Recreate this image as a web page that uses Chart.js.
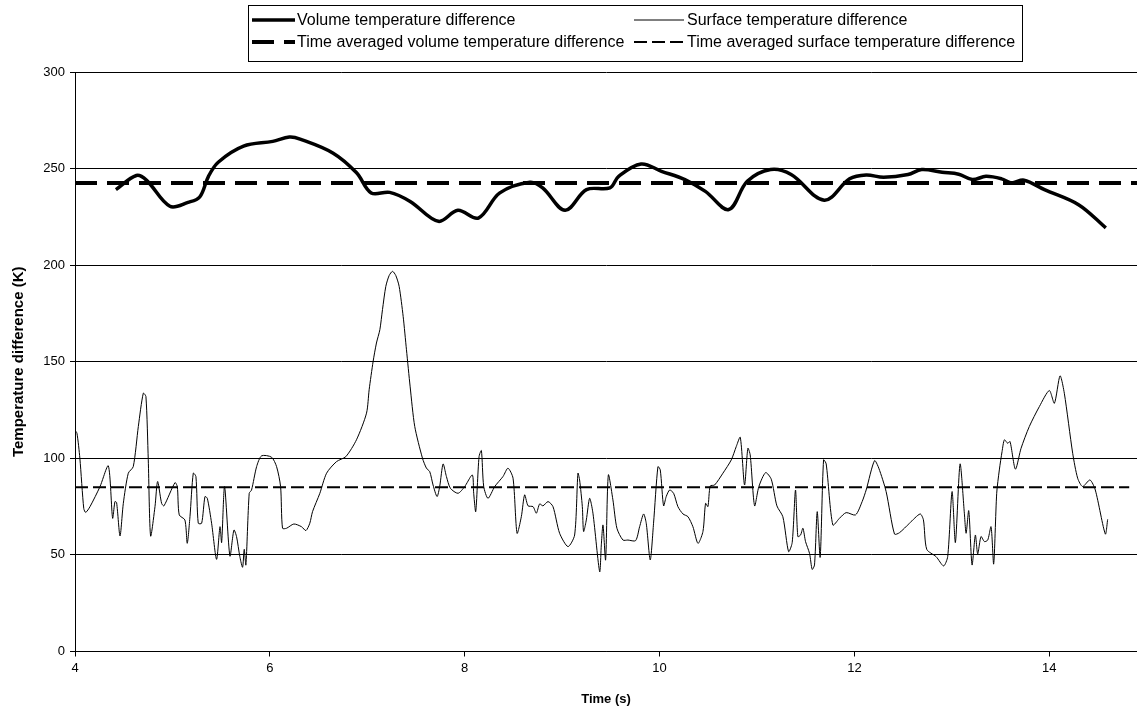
<!DOCTYPE html>
<html>
<head>
<meta charset="utf-8">
<script src="https://cdn.jsdelivr.net/npm/chart.js@4.4.1/dist/chart.umd.min.js"></script>
<style>
  html, body { margin: 0; padding: 0; background: #fff; }
  #chart { display: block; }
</style>
</head>
<body>
<canvas id="chart" width="1137" height="708"></canvas>
<script>
// volume temperature difference (thick line)
const volTime = [4.42, 4.63, 4.735, 4.974, 5.16, 5.28, 5.37, 5.47, 5.73, 6.03, 6.2, 6.31, 6.65, 6.89, 7.04, 7.23, 7.44, 7.73, 7.93, 8.14,
  8.36, 8.67, 8.80, 9.03, 9.25, 9.49, 9.58, 9.81, 10.02, 10.26, 10.47, 10.71, 10.90, 11.14, 11.35, 11.69, 11.95, 12.12, 12.30, 12.55,
  12.69, 12.90, 13.07, 13.21, 13.35, 13.51, 13.61, 13.74, 13.95, 14.30, 14.58];
const volValue = [239.1, 246.4, 243.9, 230.5, 232.5, 235.3, 246, 253.3, 261.6, 264.1, 266.3, 265.3, 258, 247.8, 237.4, 237.7, 233, 222.7, 228.4, 224.4,
  237.4, 242.9, 240, 228.4, 239.1, 240, 246, 252.4, 248.6, 244.3, 238.2, 228.8, 243.4, 249.5, 246.9, 233.6, 244.7, 246.7, 245.5, 246.9,
  249.5, 248.1, 247.1, 244.3, 246, 244.7, 242.6, 244, 239.1, 231.3, 219.3];

// surface temperature difference (thin line)
const surfTime = [4.0, 4.02, 4.05, 4.09, 4.11, 4.154, 4.257, 4.342, 4.386, 4.41, 4.427, 4.462, 4.496, 4.547, 4.598, 4.65, 4.701, 4.728, 4.752, 4.776,
  4.821, 4.848, 4.889, 4.913, 5.026, 5.05, 5.07, 5.128, 5.152, 5.18, 5.214, 5.241, 5.265, 5.3, 5.334, 5.358, 5.402, 5.453, 5.488, 5.505,
  5.535, 5.59, 5.631, 5.658, 5.692, 5.72, 5.737, 5.754, 5.788, 5.812, 5.864, 5.915, 6.017, 6.069, 6.11, 6.13, 6.171, 6.246, 6.325, 6.37,
  6.41, 6.438, 6.513, 6.582, 6.684, 6.78, 6.889, 6.992, 7.019, 7.06, 7.094, 7.129, 7.156, 7.19, 7.224, 7.259, 7.293, 7.327, 7.368, 7.402,
  7.44, 7.487, 7.566, 7.607, 7.641, 7.675, 7.716, 7.743, 7.778, 7.812, 7.853, 7.931, 8.0, 8.078, 8.092, 8.113, 8.147, 8.171, 8.195, 8.239,
  8.308, 8.393, 8.444, 8.496, 8.537, 8.581, 8.615, 8.65, 8.701, 8.735, 8.769, 8.803, 8.855, 8.906, 8.974, 9.06, 9.128, 9.162, 9.179, 9.207,
  9.22, 9.248, 9.282, 9.316, 9.385, 9.402, 9.419, 9.446, 9.474, 9.521, 9.562, 9.624, 9.675, 9.754, 9.795, 9.836, 9.863, 9.904, 9.938, 9.983,
  10.007, 10.041, 10.068, 10.103, 10.144, 10.188, 10.24, 10.291, 10.342, 10.394, 10.445, 10.472, 10.496, 10.52, 10.565, 10.65, 10.736, 10.787, 10.828, 10.872,
  10.906, 10.93, 10.975, 11.019, 11.088, 11.146, 11.204, 11.265, 11.324, 11.361, 11.395, 11.419, 11.447, 11.471, 11.498, 11.539, 11.566, 11.59, 11.618, 11.648,
  11.683, 11.71, 11.778, 11.847, 11.915, 12.011, 12.079, 12.12, 12.206, 12.25, 12.325, 12.411, 12.462, 12.565, 12.674, 12.708, 12.742, 12.838, 12.915, 12.957,
  13.002, 13.036, 13.084, 13.128, 13.146, 13.173, 13.207, 13.241, 13.265, 13.299, 13.334, 13.368, 13.402, 13.429, 13.46, 13.487, 13.515, 13.539, 13.573, 13.597,
  13.652, 13.71, 13.795, 13.898, 14.0, 14.052, 14.11, 14.154, 14.24, 14.291, 14.342, 14.417, 14.472, 14.575, 14.599];
const surfValue = [114.5, 113, 100, 74, 72, 75, 85.4, 96.1, 69, 77.6, 77.1, 59.8, 76.7, 92.3, 95.7, 116.5, 133.7, 132, 99.2, 59.8,
  75, 88, 76.7, 75.4, 87.4, 85.4, 70.7, 68.1, 56, 69.8, 92.3, 90.6, 66.4, 66.4, 80.2, 79.3, 66.4, 47.7, 64.6, 56.4,
  85.4, 49.4, 62.9, 59.5, 49.1, 43.6, 52.9, 44.8, 81.9, 83.6, 95.7, 101.3, 100.6, 95.7, 85.4, 63.8, 63.8, 66, 64.6, 62.6,
  66.4, 72.4, 81.9, 92.3, 98.3, 100.9, 109.6, 123.4, 135.5, 150.2, 159.7, 166.6, 177, 189, 194.6, 196.8, 194.6, 189, 173.5, 156.2,
  137, 116.5, 100.1, 94.9, 93.1, 86.2, 80.2, 85.4, 97.1, 90.6, 84.5, 81.9, 85.4, 91.4, 81.9, 72.4, 100.9, 104, 85.4, 79.3,
  85.4, 90.6, 94.9, 89.7, 61.2, 69.8, 81.1, 75.4, 75, 71.6, 76.4, 75.4, 77.6, 75, 61.2, 54.3, 60.3, 92.3, 88.8, 75,
  62.1, 68.1, 79.3, 71.6, 41.3, 55.2, 65.5, 47.4, 91.4, 78.5, 63.8, 57.7, 57.7, 57.4, 64.6, 71.2, 66.4, 47.4, 66.4, 95.7,
  94, 75.4, 80.2, 83.6, 81.9, 75, 71.2, 69.8, 64.6, 56, 62.1, 76.7, 75, 85.7, 86.2, 92.3, 99.2, 106.1, 110.9, 86.2,
  105.2, 101.8, 75.4, 85.4, 92.6, 89.2, 75.4, 69.8, 51.7, 56.4, 83.6, 59.5, 60.3, 63.8, 56.9, 50.8, 42.5, 44.8, 72.4, 48.8,
  99.2, 97.1, 65.5, 69, 71.9, 70.7, 77.6, 83.6, 98.8, 94.9, 82.8, 60.8, 61.5, 66.4, 71.2, 68.1, 52.9, 49.1, 44.3, 49.1,
  82.8, 56.4, 97.1, 71.6, 61.2, 72.9, 44.8, 60.3, 50.5, 59.5, 56.9, 57.7, 64.6, 45.3, 81.9, 94, 103.5, 109.6, 107.8, 108.7,
  94.4, 105.2, 116.5, 126.8, 135.1, 128.5, 142.7, 133.7, 102.6, 89.7, 85.4, 88.8, 83.6, 60.8, 68.4];

// time averaged values
const volMean = 242.5;
const surfMean = 85;
const volMeanSpan = [4, 14.9];
const surfMeanSpan = [4, 14.82];

const xTicks = [4, 6, 8, 10, 12, 14];

const labels = [
  'Volume temperature difference',
  'Surface temperature difference',
  'Time averaged volume temperature difference',
  'Time averaged surface temperature difference'
];

const FONT = "'Liberation Sans', Arial, sans-serif";

function toPoints(xs, ys) {
  return xs.map((x, i) => ({x: x, y: ys[i]}));
}

// legend drawn as a boxed 2x2 grid above the plot
const boxLegend = {
  id: 'boxLegend',
  afterDraw(chart) {
    const ctx = chart.ctx;
    const sets = chart.data.datasets;
    const box = {x: 248.5, y: 5.5, w: 774, h: 56};
    ctx.save();
    ctx.strokeStyle = '#000';
    ctx.lineWidth = 1;
    ctx.setLineDash([]);
    ctx.strokeRect(box.x, box.y, box.w, box.h);
    const cols = [{x0: 252, x1: 295, tx: 297}, {x0: 634, x1: 684, tx: 687}];
    const rows = [20, 42];
    sets.forEach((ds, i) => {
      const c = cols[i % 2];
      const y = rows[Math.floor(i / 2)];
      ctx.beginPath();
      ctx.strokeStyle = ds.borderColor;
      ctx.lineWidth = ds.borderWidth;
      ctx.setLineDash(ds.borderDash || []);
      ctx.moveTo(c.x0, y);
      ctx.lineTo(c.x1, y);
      ctx.stroke();
      ctx.setLineDash([]);
      ctx.fillStyle = '#000';
      ctx.font = '16px ' + FONT;
      ctx.textBaseline = 'middle';
      ctx.textAlign = 'left';
      ctx.fillText(ds.label, c.tx, y + 1);
    });
    ctx.restore();
  }
};

const ctx = document.getElementById('chart').getContext('2d');
const chart = new Chart(ctx, {
  type: 'line',
  data: {
    datasets: [
      {
        label: labels[0],
        data: toPoints(volTime, volValue),
        borderColor: '#000',
        borderWidth: 3.5,
        tension: 0.35,
        pointRadius: 0,
        fill: false
      },
      {
        label: labels[1],
        data: toPoints(surfTime, surfValue),
        borderColor: '#000',
        borderWidth: 1,
        tension: 0.25,
        pointRadius: 0,
        fill: false
      },
      {
        label: labels[2],
        data: toPoints(volMeanSpan, [volMean, volMean]),
        borderColor: '#000',
        borderWidth: 4,
        borderDash: [22, 10],
        pointRadius: 0,
        fill: false
      },
      {
        label: labels[3],
        data: toPoints(surfMeanSpan, [surfMean, surfMean]),
        borderColor: '#000',
        borderWidth: 2,
        borderDash: [13, 5],
        pointRadius: 0,
        fill: false
      }
    ]
  },
  options: {
    responsive: false,
    animation: false,
    devicePixelRatio: 1,
    layout: {
      padding: {top: 72, right: 0, bottom: 0, left: 0}
    },
    plugins: {
      legend: {display: false},
      tooltip: {enabled: false}
    },
    scales: {
      x: {
        type: 'linear',
        min: 4,
        max: 14.9,
        afterBuildTicks: scale => {
          scale.ticks = xTicks.map(v => ({value: v}));
        },
        afterFit: scale => {
          scale.height = 56.5;
        },
        grid: {
          drawOnChartArea: false,
          color: '#000',
          tickLength: 5
        },
        border: {color: '#000', width: 1},
        ticks: {
          color: '#000',
          font: {family: FONT, size: 13},
          padding: 4,
          maxRotation: 0
        },
        title: {
          display: true,
          text: 'Time (s)',
          color: '#000',
          font: {family: FONT, size: 13, weight: 'bold'},
          padding: {top: 0, bottom: 1}
        }
      },
      y: {
        min: 0,
        max: 300,
        afterFit: scale => {
          scale.width = 75;
        },
        grid: {
          color: '#000',
          tickLength: 5
        },
        border: {color: '#000', width: 1},
        ticks: {
          stepSize: 50,
          color: '#000',
          font: {family: FONT, size: 13},
          padding: 5
        },
        title: {
          display: true,
          text: 'Temperature difference (K)',
          color: '#000',
          font: {family: FONT, size: 15, weight: 'bold'},
          padding: {top: 10, bottom: 0}
        }
      }
    }
  },
  plugins: [boxLegend]
});
</script>
</body>
</html>
